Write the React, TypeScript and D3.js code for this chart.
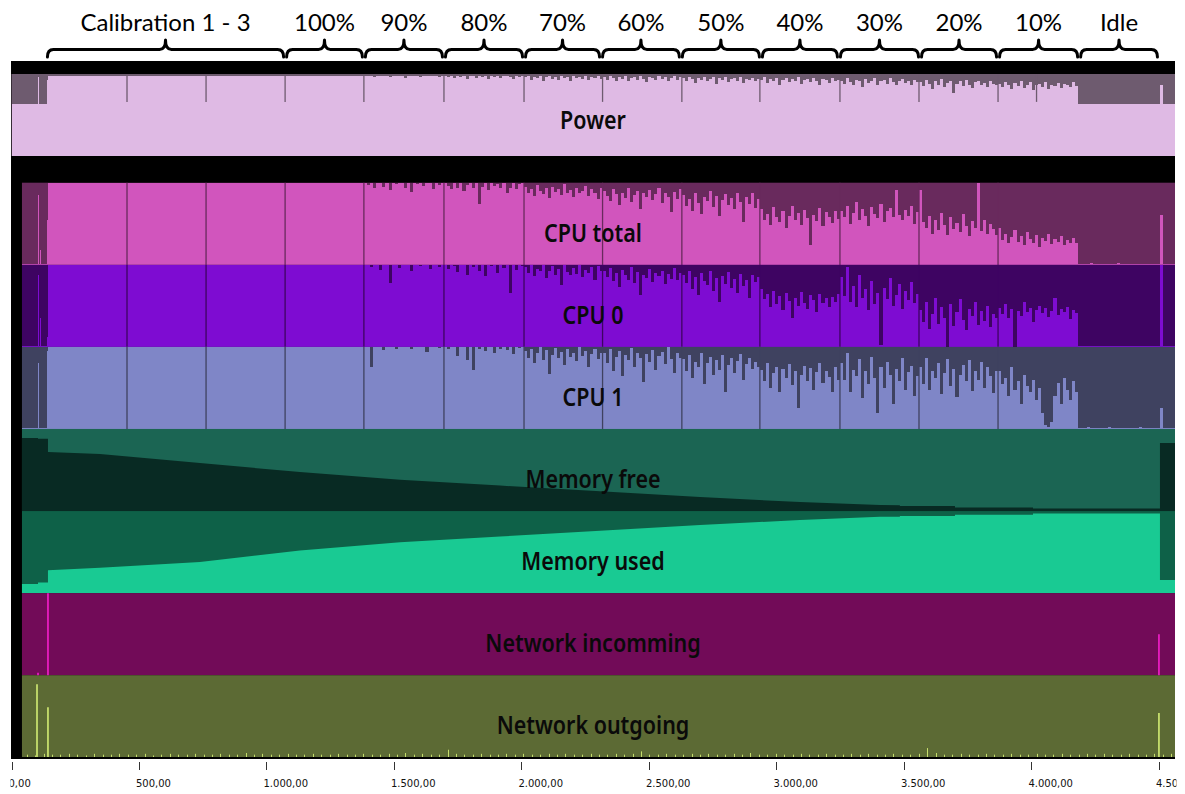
import React from "react";
import * as d3 from "d3";

// ---- time axis (seconds) ----
const timeDomain = [0, 4563];
const axisTicks = [0, 500, 1000, 1500, 2000, 2500, 3000, 3500, 4000, 4500];

// ---- test phases shown with braces on top ----
const phaseLabels = ["Calibration 1 - 3", "100%", "90%", "80%", "70%", "60%", "50%", "40%", "30%", "20%", "10%", "Idle"];
const phaseStarts = [135, 1073, 1382, 1696, 2010, 2312, 2625, 2939, 3245, 3563, 3869, 4187];
const phaseEnds = [1073, 1382, 1696, 2010, 2312, 2625, 2939, 3245, 3563, 3869, 4187, 4500];

// ---- sampled series: one value list per segment, segments end at these times ----
// segments: pre, calibration, 100%, 90%, 80%, 70%, 60%, 50%, 40%, 30%, 20%, 10%, idle
const segmentEnds = [143, 1073, 1382, 1696, 2010, 2318, 2629, 2935, 3249, 3559, 3869, 4183, 4563];
const powerStart = 0;
const cpuStart = 41;

// power draw, % of band
const power = [
  [64,64,64,64,64,64,64,64,64,64,64,64,64,64,64,64,64,64,64,64,64,64,64,64,64,64,96,64,64,64,64,64,64,64,64,93],
  [98,98,97,98,98,97,98,98,98,97,98,98],
  [98,98,97,98,98,98,98,97,98,98],
  [98,97,98,96,98,97,98,98,96,97,98,97,98,95,98,97,98,98,96,98,97,98,97,98,96,98],
  [97,96,98,95,97,96,98,94,97,98,95,97,96,98,94,97,96,98,95,97,98,96,94,97,96,98],
  [96,97,93,96,95,97,92,96,98,94,96,93,97,95,96,91,97,95,96,94,97,93,96,95,97,94],
  [96,93,97,95,91,96,94,97,92,95,96,93,97,94,90,96,95,93,97,94,96,92,95,97,93,96],
  [95,92,96,94,89,95,93,96,91,94,96,88,95,93,96,90,94,95,92,96,89,94,93,95,91,94],
  [93,96,89,94,92,95,87,93,95,90,94,91,96,88,93,94,90,95,92,87,94,93,89,95,91,93],
  [92,88,95,90,86,93,91,84,94,89,92,95,87,91,93,88,95,90,86,92,94,89,91,87,93,90],
  [90,85,93,88,82,91,86,94,84,89,92,77,88,91,85,93,87,83,90,92,86,89,84,91,88,86],
  [88,84,90,86,82,89,85,91,83,87,90,80,86,88,84,90,82,87,85,89,83,88,86,84,90,85],
  [64,64,64,64,64,64,64,64,64,64,64,64,64,64,64,64,64,64,64,64,64,64,64,64,64,64,64,86,64,64,64,64],
];

// CPU load, %
const cpuTotal = [
  [1,1,1,1,1,1,1,1,1,1,1,1,1,1,1,1,85,1,18,1,1,1,1,1,1,55],
  [100,100,100,100,100,100,100,100,100,100,100,100],
  [100,100,100,100,100,100,100,100,100,100],
  [100,97,100,93,100,100,95,100,91,100,98,100,100,94,100,89,100,99,100,96,100,100,92,100,97,100],
  [100,96,92,100,94,100,90,97,100,93,100,74,95,100,91,100,96,99,93,100,87,94,100,92,98,100],
  [95,88,92,84,97,90,86,93,81,95,89,92,85,98,88,91,83,94,87,90,96,84,92,88,80,93],
  [90,84,78,92,86,73,88,81,94,77,85,90,68,87,82,91,79,86,93,75,88,83,64,89,80,92],
  [85,72,80,66,88,75,62,83,78,90,70,84,59,79,86,73,81,68,87,76,52,82,74,88,69,80],
  [68,55,62,48,70,58,52,66,45,60,72,54,63,49,67,57,24,61,53,69,47,64,58,51,66,56],
  [66,58,72,50,63,76,55,68,60,47,71,62,57,74,52,65,69,58,91,61,54,67,59,72,50,64],
  [91,52,45,60,38,55,42,63,48,36,58,44,51,40,62,47,35,53,45,100,41,55,38,50,44,36],
  [45,30,38,26,34,42,28,35,24,40,31,27,36,22,33,29,38,25,32,28,35,24,30,27,33,26],
  [1,1,1,1,2,1,1,1,1,1,1,1,1,2,1,1,1,1,1,1,1,1,1,1,1,1,1,61,1,1,1,1],
];

const cpu0 = [
  [1,1,1,1,1,1,1,1,1,1,1,1,1,1,1,1,88,1,35,1,1,1,1,1,1,12],
  [100,100,100,100,100,100,100,100,100,100,100,100],
  [100,100,100,100,100,100,100,100,100,100],
  [100,100,97,100,100,94,100,100,78,100,100,96,100,100,100,92,100,100,98,100,100,95,100,100,97,100],
  [100,95,100,98,91,100,100,88,100,97,100,93,100,86,100,99,100,90,100,96,100,66,100,94,100,98],
  [97,90,100,86,95,92,100,84,93,98,88,95,75,100,91,87,96,89,100,85,94,90,97,82,99,92],
  [92,85,96,80,90,73,94,87,82,97,78,91,63,88,84,95,79,90,86,93,76,89,83,96,81,90],
  [88,78,92,70,85,63,90,80,75,93,68,84,55,86,77,91,72,83,66,89,74,81,60,87,79,85],
  [70,58,64,48,68,52,62,45,66,56,35,60,50,67,54,46,63,57,42,65,53,59,48,61,55,64],
  [85,62,97,55,74,48,88,60,70,45,80,52,66,2,72,58,84,50,63,76,46,68,57,79,53,65],
  [45,30,55,22,40,60,28,48,35,0,52,25,42,58,33,20,46,38,55,27,44,31,50,24,40,35],
  [47,40,52,35,46,0,44,38,55,42,47,30,45,50,41,47,36,44,60,39,46,43,48,34,45,41],
  [1,1,1,1,1,1,1,1,1,1,1,1,1,1,1,1,1,1,1,1,1,1,1,1,1,1,1,100,1,1,1,1],
];

const cpu1 = [
  [1,1,1,1,1,1,1,1,1,1,1,1,1,1,1,1,80,1,1,1,1,1,1,1,1,95],
  [100,100,100,100,100,100,100,100,100,100,100,100],
  [100,100,100,100,100,100,100,100,100,100],
  [100,100,75,100,100,100,96,100,100,100,98,100,100,100,100,97,100,100,100,100,94,100,100,100,99,100],
  [100,97,100,100,89,100,100,84,100,72,100,98,100,95,100,100,93,100,97,100,96,100,91,100,99,100],
  [95,87,98,80,92,100,84,96,67,90,99,86,94,78,97,88,93,83,100,89,95,76,91,98,85,92],
  [92,80,97,70,88,95,64,90,84,99,75,93,86,57,91,82,96,72,89,94,79,100,85,68,93,87],
  [85,70,90,62,82,75,92,55,80,88,66,84,72,90,45,78,86,68,83,91,60,79,87,73,81,76],
  [72,58,80,50,68,76,45,73,62,79,54,70,25,66,77,58,74,48,69,80,56,71,63,45,75,60],
  [80,60,92,45,72,65,85,38,70,55,88,62,19,75,50,82,66,31,73,58,86,48,69,77,40,64],
  [75,55,87,48,70,62,80,42,68,85,52,73,39,66,78,58,84,46,71,60,82,50,76,64,44,70],
  [70,55,62,40,75,48,58,30,66,52,45,60,35,50,20,5,2,8,40,56,30,62,48,35,58,45],
  [1,1,1,2,1,1,1,1,1,1,2,1,1,1,1,1,1,1,1,1,2,1,1,1,1,1,1,26,1,1,1,1],
];

// short drops at each test restart
const cpuDropTimes = [453, 763, 1073, 1382, 1696, 2010, 2318, 2629, 2935, 3249, 3559, 3869];
const powerDropTimes = [453, 763, 1073, 1382, 1696, 2010, 2318, 2629, 2935, 3249, 3559, 3869, 4020];
const powerDropValue = 66;

// memory, % of total
const memTimes = [41, 104, 104, 143, 143, 347, 739, 1131, 1524, 1916, 2308, 2700, 3092, 3406, 3484, 3484, 3700, 3700, 4006, 4006, 4504, 4504, 4563];
const memFree = [89, 89, 88, 88, 72, 69.5, 58.5, 47.5, 38, 31, 24, 17, 11, 7.5, 7, 6, 6, 4.3, 4.3, 3, 3, 83, 83];
const memUsed = [11, 11, 13, 13, 28, 31, 38, 52, 62, 69, 76, 83, 89, 93, 93, 94, 94, 95.5, 95.5, 97, 97, 16, 16];

// network traffic bursts, % of band
const netInTimes = [104, 143, 4500];
const netInValues = [3, 100, 50];
const netOutTimes = [100, 143, 4500];
const netOutValues = [89, 61, 54];
// background outgoing traffic, sampled every 33 s from t = 60
const netOutBgStart = 60;
const netOutBgStep = 33;
const netOutBg = [
  2,1,3,2,2,3,2,1,3,2,
  2,3,2,2,3,1,2,3,2,2,
  3,2,2,3,2,2,4,2,3,2,
  2,3,2,2,3,2,2,3,2,2,
  3,2,2,3,2,4,2,3,2,2,
  8,3,2,2,3,2,2,3,2,3,
  2,2,3,2,3,2,2,3,2,2,
  3,2,3,6,2,2,3,2,2,3,
  2,3,2,2,3,2,4,2,2,3,
  2,2,3,2,2,3,2,2,3,2,
  3,2,2,3,2,2,3,10,4,2,
  2,3,2,2,3,2,2,3,2,2,
  3,2,2,3,2,2,3,2,3,2,
  2,3,2,2,3,2,3,
];

// ---- lower bands ----
const bandKeys = ["cpuTotal", "cpu0", "cpu1", "memFree", "memUsed", "netIn", "netOut"];
const bandLabels: Record<string, string> = {
  cpuTotal: "CPU total",
  cpu0: "CPU 0",
  cpu1: "CPU 1",
  memFree: "Memory free",
  memUsed: "Memory used",
  netIn: "Network incomming",
  netOut: "Network outgoing",
};

const colors = {
  powerBg: "#6e5b6f",
  powerFg: "#dfbae4",
  cpuTotalBg: "#692a5d",
  cpuTotalFg: "#d155bd",
  cpu0Bg: "#3e0462",
  cpu0Fg: "#7e0cd2",
  cpu1Bg: "#3f4260",
  cpu1Fg: "#7f86c7",
  memFreeBg: "#1b6553",
  memFreeFg: "#082a23",
  memUsedBg: "#0e6148",
  memUsedFg: "#19ca93",
  netInBg: "#720b58",
  netInFg: "#e81cc0",
  netOutBg: "#5c6a34",
  netOutFg: "#c6de6c",
};

type Pt = [number, number];

function buildPoints(start: number, segments: number[][]): Pt[] {
  const pts: Pt[] = [];
  let s = start;
  segments.forEach((vals, k) => {
    const e = segmentEnds[k];
    const step = (e - s) / vals.length;
    vals.forEach((v, i) => pts.push([s + i * step, v]));
    s = e;
  });
  pts.push([s, pts[pts.length - 1][1]]);
  return pts;
}

export default function App() {
  const W = 1185;
  const H = 794;
  const x = d3.scaleLinear().domain(timeDomain).range([11.5, 1175]);
  const band = d3.scaleBand().domain(bandKeys).range([182.7, 757.3]).padding(0);
  const bw = band.bandwidth();
  const powerTop = 74;
  const powerBottom = 156;
  const left = 11;
  const right = 1175;
  const dataLeft = x(cpuStart);

  const fmt = d3
    .formatLocale({ decimal: ",", thousands: ".", grouping: [3], currency: ["", ""] })
    .format(",.2f");

  const areaPath = (pts: Pt[], top: number, bottom: number, curve: d3.CurveFactory) => {
    const y = d3.scaleLinear().domain([0, 100]).range([bottom, top]);
    return (
      d3
        .area<Pt>()
        .x((d) => x(d[0]))
        .y0(bottom)
        .y1((d) => y(d[1]))
        .curve(curve)(pts) || ""
    );
  };

  const brace = (x1: number, x2: number) => {
    const m = (x1 + x2) / 2;
    const yTip = 57;
    const yBar = 49.5;
    const yPeak = 40;
    const r = 6;
    const a = x1 + 1.5;
    const b = x2 - 1.5;
    return `M${a},${yTip} Q${a},${yBar} ${a + r},${yBar} L${m - r},${yBar} Q${m},${yBar} ${m},${yPeak} Q${m},${yBar} ${m + r},${yBar} L${b - r},${yBar} Q${b},${yBar} ${b},${yTip}`;
  };

  const powerPts = buildPoints(powerStart, power);
  const cpuSeries: Record<string, number[][]> = { cpuTotal, cpu0, cpu1 };
  const memSeries: Record<string, number[]> = { memFree, memUsed };

  const labelFont = "'Noto Sans', 'DejaVu Sans', sans-serif";

  const bandLabel = (text: string, cx: number, baseline: number) => (
    <g key={text} transform={`translate(${cx},${baseline}) scale(0.86,1)`}>
      <text textAnchor="middle" fontFamily={labelFont} fontWeight={600} fontSize={25} fill="#0a0a0a">
        {text}
      </text>
    </g>
  );

  const midX = (left + right) / 2;

  return (
    <svg
      width={W}
      height={H}
      viewBox={`0 0 ${W} ${H}`}
      style={{ position: "absolute", left: 0, top: 0, display: "block", background: "#fff" }}
    >
      <defs>
        <clipPath id="tickClip">
          <rect x={10.5} y={760} width={1166} height={34} />
        </clipPath>
      </defs>

      {/* phase braces */}
      <g>
        {phaseLabels.map((lab, i) => {
          const x1 = x(phaseStarts[i]);
          const x2 = x(phaseEnds[i]);
          return (
            <g key={lab}>
              <path d={brace(x1, x2)} fill="none" stroke="#000" strokeWidth={3} strokeLinecap="round" strokeLinejoin="round" />
              <text
                x={(x1 + x2) / 2}
                y={31}
                textAnchor="middle"
                fontFamily="Lato, 'Open Sans', sans-serif"
                fontSize={24}
                fill="#000"
              >
                {lab}
              </text>
            </g>
          );
        })}
      </g>

      {/* chart background */}
      <rect x={left} y={61} width={right - left} height={759 - 61} fill="#000" />

      {/* power */}
      <rect x={x(powerStart)} y={powerTop} width={right - x(powerStart)} height={powerBottom - powerTop} fill={colors.powerBg} />
      <path d={areaPath(powerPts, powerTop, powerBottom, d3.curveStepAfter)} fill={colors.powerFg} shapeRendering="crispEdges" />
      {powerDropTimes.map((t) => {
        const y = d3.scaleLinear().domain([0, 100]).range([powerBottom, powerTop]);
        return (
          <line key={t} x1={x(t)} x2={x(t)} y1={powerTop} y2={y(powerDropValue)} stroke={colors.powerBg} strokeWidth={1.3} />
        );
      })}
      {bandLabel("Power", midX, 129)}

      {/* CPU bands */}
      {["cpuTotal", "cpu0", "cpu1"].map((k) => {
        const top = band(k)!;
        const bottom = top + bw;
        const bg = (colors as any)[k + "Bg"];
        const fg = (colors as any)[k + "Fg"];
        const pts = buildPoints(cpuStart, cpuSeries[k]);
        return (
          <g key={k}>
            <rect x={dataLeft} y={top} width={right - dataLeft} height={bw} fill={bg} />
            <path d={areaPath(pts, top, bottom, d3.curveStepAfter)} fill={fg} shapeRendering="crispEdges" />
            {cpuDropTimes.map((t) => (
              <line key={t} x1={x(t)} x2={x(t)} y1={top} y2={bottom} stroke={bg} strokeWidth={1.3} />
            ))}
          </g>
        );
      })}

      {/* memory bands */}
      {["memFree", "memUsed"].map((k) => {
        const top = band(k)!;
        const bottom = top + bw;
        const bg = (colors as any)[k + "Bg"];
        const fg = (colors as any)[k + "Fg"];
        const vals = memSeries[k];
        const pts: Pt[] = memTimes.map((t, i) => [t, vals[i]]);
        return (
          <g key={k}>
            <rect x={dataLeft} y={top} width={right - dataLeft} height={bw} fill={bg} />
            <path d={areaPath(pts, top, bottom, d3.curveLinear)} fill={fg} />
          </g>
        );
      })}

      {/* network bands */}
      {(() => {
        const topIn = band("netIn")!;
        const botIn = topIn + bw;
        const topOut = band("netOut")!;
        const botOut = topOut + bw;
        const yIn = d3.scaleLinear().domain([0, 100]).range([botIn, topIn]);
        const yOut = d3.scaleLinear().domain([0, 100]).range([botOut, topOut]);
        return (
          <g>
            <rect x={dataLeft} y={topIn} width={right - dataLeft} height={bw} fill={colors.netInBg} />
            <rect x={dataLeft} y={topOut} width={right - dataLeft} height={bw} fill={colors.netOutBg} />
            {netOutBg.map((v, i) => {
              const t = netOutBgStart + i * netOutBgStep;
              if (t > timeDomain[1]) return null;
              const xx = Math.round(x(t)) + 0.5;
              return <line key={i} x1={xx} x2={xx} y1={botOut} y2={yOut(v) - 1} stroke={colors.netOutFg} strokeWidth={1} />;
            })}
            {netInTimes.map((t, i) => (
              <line key={"in" + i} x1={x(t)} x2={x(t)} y1={botIn} y2={yIn(netInValues[i])} stroke={colors.netInFg} strokeWidth={1.8} />
            ))}
            {netOutTimes.map((t, i) => (
              <line key={"out" + i} x1={x(t)} x2={x(t)} y1={botOut} y2={yOut(netOutValues[i])} stroke={colors.netOutFg} strokeWidth={1.8} />
            ))}
          </g>
        );
      })()}

      {/* band labels */}
      {bandKeys.map((k) => bandLabel(bandLabels[k], midX, band(k)! + bw / 2 + 18))}

      {/* time axis */}
      <rect x={left} y={757} width={right - left} height={2} fill="#000" />
      <g clipPath="url(#tickClip)">
        {axisTicks.map((t) => (
          <g key={t}>
            <line x1={Math.round(x(t)) + 0.5} x2={Math.round(x(t)) + 0.5} y1={762} y2={770} stroke="#333" strokeWidth={1} />
            <text x={x(t) - 3} y={787} fontFamily="'DejaVu Sans', sans-serif" fontSize={10} fill="#111">
              {fmt(t)}
            </text>
          </g>
        ))}
      </g>
    </svg>
  );
}
